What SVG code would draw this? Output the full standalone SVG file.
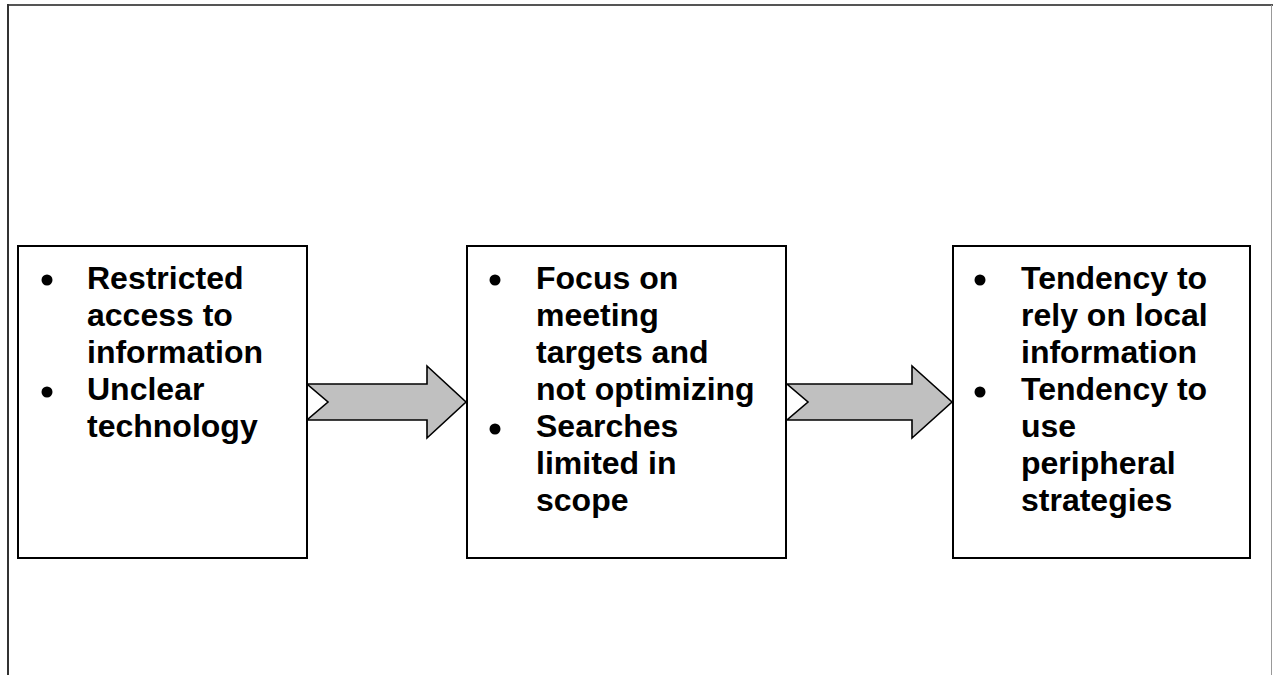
<svg xmlns="http://www.w3.org/2000/svg" width="1273" height="675" viewBox="0 0 1273 675">
<style>
.box{fill:#fff;stroke:#000;stroke-width:2}
.arrow{fill:#c0c0c0;stroke:#000;stroke-width:1.6;stroke-linejoin:miter}
.t{font-family:"Liberation Sans",Arial,sans-serif;font-weight:bold;font-size:32px;fill:#000}
.b{fill:#000}
</style>
<rect width="1273" height="675" fill="#fff"/>
<g id="frame">
<line x1="7" y1="5" x2="1273" y2="5" stroke="#555" stroke-width="2"/>
<line x1="8" y1="4" x2="8" y2="675" stroke="#333" stroke-width="2"/>
<line x1="1271.5" y1="5" x2="1271.5" y2="675" stroke="#999" stroke-width="1"/>
</g>
<g id="connectors">
<polygon class="arrow" points="307,384 427,384 427,366 466,402 427,438 427,420 307,420 328,402"/>
<polygon class="arrow" points="787,384 912,384 912,366 952,402 912,438 912,420 787,420 808,402"/>
</g>
<g id="node1">
<rect class="box" x="18" y="246" width="289" height="312"/>
<circle class="b" cx="47" cy="280" r="5.5"/>
<circle class="b" cx="47" cy="392" r="5.5"/>
<text class="t" x="87"><tspan x="87" y="289">Restricted</tspan><tspan x="87" y="326">access to</tspan><tspan x="87" y="363">information</tspan><tspan x="87" y="400">Unclear</tspan><tspan x="87" y="437">technology</tspan></text>
</g>
<g id="node2">
<rect class="box" x="467" y="246" width="319" height="312"/>
<circle class="b" cx="495" cy="280" r="5.5"/>
<circle class="b" cx="495" cy="429" r="5.5"/>
<text class="t"><tspan x="536" y="289">Focus on</tspan><tspan x="536" y="326">meeting</tspan><tspan x="536" y="363">targets and</tspan><tspan x="536" y="400">not optimizing</tspan><tspan x="536" y="437">Searches</tspan><tspan x="536" y="474">limited in</tspan><tspan x="536" y="511">scope</tspan></text>
</g>
<g id="node3">
<rect class="box" x="953" y="246" width="297" height="312"/>
<circle class="b" cx="980" cy="280" r="5.5"/>
<circle class="b" cx="980" cy="392" r="5.5"/>
<text class="t"><tspan x="1021" y="289">Tendency to</tspan><tspan x="1021" y="326">rely on local</tspan><tspan x="1021" y="363">information</tspan><tspan x="1021" y="400">Tendency to</tspan><tspan x="1021" y="437">use</tspan><tspan x="1021" y="474">peripheral</tspan><tspan x="1021" y="511">strategies</tspan></text>
</g>
</svg>
